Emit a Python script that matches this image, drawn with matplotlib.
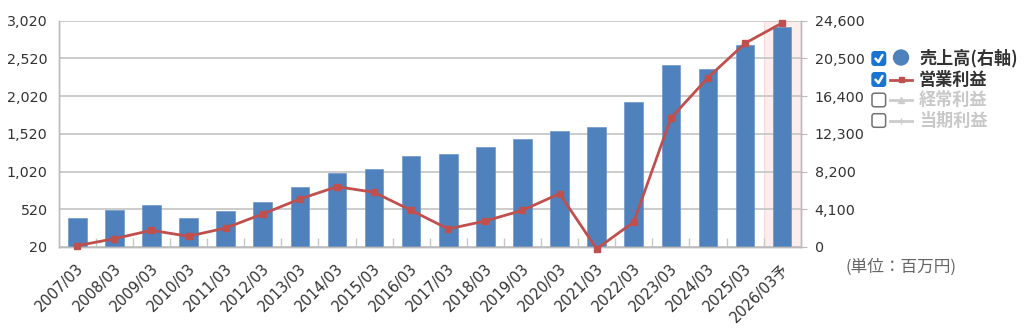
import matplotlib
matplotlib.use("Agg")
import matplotlib.pyplot as plt
import matplotlib.transforms as mtransforms
from matplotlib.patches import FancyBboxPatch, Circle, Rectangle
from matplotlib.lines import Line2D
import numpy as np

plt.rcParams["font.family"] = ["DejaVu Sans", "Noto Sans CJK JP"]

years = ["2007/03", "2008/03", "2009/03", "2010/03", "2011/03", "2012/03", "2013/03",
         "2014/03", "2015/03", "2016/03", "2017/03", "2018/03", "2019/03", "2020/03",
         "2021/03", "2022/03", "2023/03", "2024/03", "2025/03", "2026/03予"]
sales = [3120, 3990, 4600, 3120, 3880, 4890, 6520, 8040, 8480, 9925,
         10080, 10870, 11740, 12610, 13040, 15730, 19750, 19320, 21990, 23910]
op_profit = [37, 130, 241, 162, 272, 458, 656, 820, 745, 506,
             259, 365, 506, 727, -5, 352, 1727, 2265, 2721, 2990]
left_ticks = [20, 520, 1020, 1520, 2020, 2520, 3020]
right_ticks = [0, 4100, 8200, 12300, 16400, 20500, 24600]

W, H = 1024, 331
fig = plt.figure(figsize=(W / 100, H / 100), dpi=100)
x0, x1, y0, y1 = 58.7, 800.7, 20.7, 247
ax = fig.add_axes([x0 / W, 1 - y1 / H, (x1 - x0) / W, (y1 - y0) / H])
ax2 = ax.twinx()

x = np.arange(len(years))
grid_c = "#c8c8c8"
txt_c = "#333333"

# forecast column shading
ax.axvspan(len(years) - 1.5, len(years) - 0.5, facecolor="#fdeeee",
           edgecolor="#f6d6d6", lw=0.8, zorder=0.2)

ax.bar(x, sales, width=0.5, color="#4f81bd", edgecolor="#6f97c8", lw=0.5, zorder=2)
ax.set_ylim(0, 24600)
ax.set_xlim(-0.5, len(years) - 0.5)
ax.set_yticks(right_ticks)
ax.set_yticklabels([f"{v:,}" for v in right_ticks])
ax.yaxis.tick_right()
ax.tick_params(axis="y", length=4, color="#bbbbbb", labelsize=10.3, labelcolor=txt_c, pad=6)
ax.grid(axis="y", color=grid_c, lw=1.3)
ax.set_axisbelow(True)

ax2.plot(x, op_profit, color="#c0504d", lw=2, marker="s", ms=4.5, zorder=5, clip_on=False)
ax2.set_ylim(20, 3020)
ax2.set_yticks(left_ticks)
ax2.set_yticklabels([f"{v:,}" for v in left_ticks])
ax2.yaxis.tick_left()
ax2.tick_params(axis="y", length=0, labelsize=10.3, labelcolor=txt_c, pad=8)

for a in (ax, ax2):
    for s in a.spines.values():
        s.set_color("#bbbbbb")
        s.set_linewidth(1)
    a.spines["top"].set_visible(False)

ax.set_xticks(x)
ax.set_xticklabels(years, rotation=45, ha="right", va="center", rotation_mode="anchor",
                   fontsize=10.5, color=txt_c)
ax.tick_params(axis="x", which="major", length=0, pad=14)
ax.set_xticks(np.arange(0.5, len(years) - 1, 1), minor=True)
ax.tick_params(axis="x", which="minor", direction="in", length=6.5, color=grid_c, width=1)
off = mtransforms.ScaledTranslation(3 / 72, 0, fig.dpi_scale_trans)
for lab in ax.get_xticklabels():
    lab.set_transform(lab.get_transform() + off)

# legend drawn in pixel space
lg = fig.add_axes([0, 0, 1, 1], zorder=10)
lg.set_xlim(0, W)
lg.set_ylim(H, 0)
lg.axis("off")

rows = [58.5, 79.5, 100, 120.5]
labels = ["売上高(右軸)", "営業利益", "経常利益", "当期利益"]
checked = [True, True, False, False]
for i, (yy, lab, chk) in enumerate(zip(rows, labels, checked)):
    if chk:
        lg.add_patch(FancyBboxPatch((872, yy - 6.8), 13.6, 13.6,
                                    boxstyle="round,pad=0,rounding_size=2.5",
                                    fc="#1a75d2", ec="#1a75d2", lw=1))
        lg.add_line(Line2D([875.5, 878.5, 882.5], [yy + 0.2, yy + 3.4, yy - 3.5],
                           color="white", lw=1.8, solid_capstyle="round",
                           solid_joinstyle="round"))
        tc = "#333333"
    else:
        lg.add_patch(FancyBboxPatch((872, yy - 6.8), 13.6, 13.6,
                                    boxstyle="round,pad=0,rounding_size=2.5",
                                    fc="white", ec="#707070", lw=1.1))
        tc = "#c8c8c8"
    if i == 0:
        lg.add_patch(Circle((901, yy - 1), 7.5, color="#4f81bd"))
    elif i == 1:
        lg.add_line(Line2D([890, 912], [yy, yy], color="#c0504d", lw=2))
        lg.add_patch(Rectangle((898.5, yy - 2.5), 5, 5, color="#c0504d"))
    else:
        lg.add_line(Line2D([890, 912], [yy, yy], color="#cccccc", lw=2))
        mk = "^" if i == 2 else "|"
        lg.plot([901], [yy], marker=mk, ms=5, color="#cccccc")
    lg.text(919, yy, lab, fontsize=12.3, fontweight="bold", color=tc, va="center",
            ha="left", family=["Noto Sans CJK JP", "DejaVu Sans"])

lg.text(901, 267, "(単位：百万円)", fontsize=12, color="#666666", va="center", ha="center",
        family=["Noto Sans CJK JP", "DejaVu Sans"])

fig.savefig("out.png", dpi=100)
